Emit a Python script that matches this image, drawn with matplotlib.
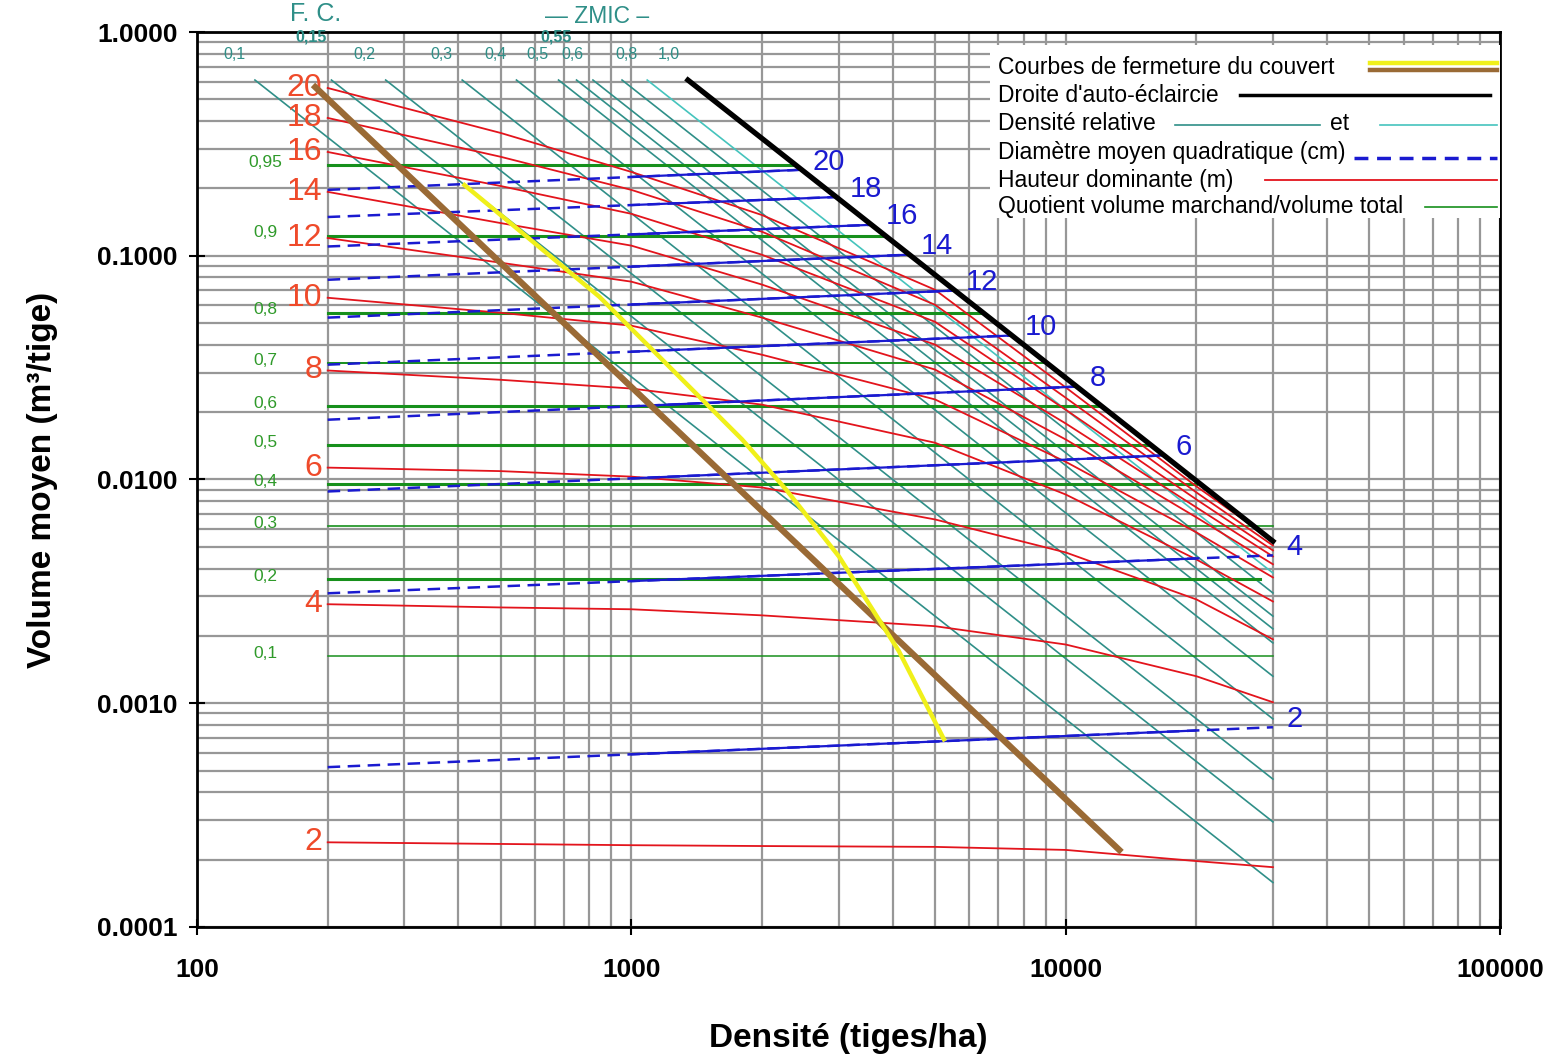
import numpy as np
import matplotlib.pyplot as plt
from matplotlib.ticker import LogLocator, FormatStrFormatter, NullFormatter
from matplotlib.patches import Rectangle

plt.rcParams['font.family'] = ['Liberation Sans', 'DejaVu Sans']

# densities (tiges/ha) at which the height curves were read
n_read = [200, 500, 1000, 2000, 5000, 10000, 20000, 30000]

# hauteur dominante (m) -> volume moyen (m3/tige) at n_read
heights = [20, 18, 16, 14, 12, 10, 8, 6, 4, 2]
h20 = [0.562, 0.354, 0.237, 0.152, 0.0705, 0.0258, 0.00931, 0.00534]
h18 = [0.413, 0.277, 0.197, 0.128, 0.0604, 0.0232, 0.00875, 0.00507]
h16 = [0.291, 0.205, 0.154, 0.101, 0.0507, 0.0205, 0.00814, 0.00482]
h14 = [0.193, 0.140, 0.111, 0.0743, 0.0401, 0.0178, 0.0075, 0.00453]
h12 = [0.120, 0.0931, 0.0766, 0.0529, 0.0310, 0.0151, 0.00677, 0.00418]
h10 = [0.0649, 0.0556, 0.0487, 0.0361, 0.0228, 0.0120, 0.00580, 0.00365]
h8 = [0.0307, 0.0279, 0.0255, 0.0216, 0.0146, 0.00857, 0.00439, 0.00285]
h6 = [0.0113, 0.0109, 0.0103, 0.00921, 0.00663, 0.00472, 0.00291, 0.00193]
h4 = [0.00277, 0.00268, 0.00263, 0.00247, 0.00221, 0.00183, 0.00132, 0.00101]
h2 = [0.000239, 0.000235, 0.000232, 0.000230, 0.000228, 0.000221, 0.000197, 0.000185]
height_curves = [h20, h18, h16, h14, h12, h10, h8, h6, h4, h2]

# diametre moyen quadratique (cm): from N=200 to the self-thinning line
dq_values = [20, 18, 16, 14, 12, 10, 8, 6, 4, 2]
dq_n_start = 200
dq_n_end = [2432, 2958, 3581, 4303, 5470, 7480, 10540, 16630, 30000, 30000]
dq_v_start = [0.197, 0.149, 0.110, 0.0781, 0.0529, 0.0326, 0.0185, 0.00884, 0.00310, 0.000518]
dq_v_end = [0.242, 0.183, 0.1375, 0.101, 0.0698, 0.0440, 0.0260, 0.0128, 0.00458, 0.000781]

# quotient volume marchand / volume total
mv_labels = ['0,95', '0,9', '0,8', '0,7', '0,6', '0,5', '0,4', '0,3', '0,2', '0,1']
mv_v = [0.255, 0.123, 0.0557, 0.033, 0.0212, 0.0142, 0.0095, 0.00617, 0.00358, 0.00162]
mv_n_end = [2388, 3846, 6457, 9078, 12140, 15770, 20000, 30000, 28000, 30000]
mv_lw = [2.2, 2.2, 2.2, 1.4, 2.2, 2.2, 2.2, 1.2, 2.2, 1.1]

# densite relative lines
rd_values = [0.1, 0.15, 0.2, 0.3, 0.4, 0.5, 0.55, 0.6, 0.7, 0.8, 1.0]
rd_n_start = [136, 204, 272, 408, 544, 680, 748, 816, 952, 1088, 1360]
rd_v_start = 0.61
rd_n_end = 30000
rd_v_end = [1.58e-4, 2.95e-4, 4.58e-4, 8.51e-4, 1.32e-3, 1.86e-3, 2.15e-3, 2.45e-3, 3.11e-3, 3.82e-3, 5.37e-3]
rd_top_labels = ['0,1', '0,2', '0,3', '0,4', '0,5', '0,6', '0,8', '1,0']
rd_top_values = [0.1, 0.2, 0.3, 0.4, 0.5, 0.6, 0.8, 1.0]
rd_top2_labels = ['0,15', '0,55']
rd_top2_values = [0.15, 0.55]

# droite d'auto-eclaircie
st_n = [1350, 30000]
st_v = [0.61, 0.0053]

# courbes de fermeture du couvert
fc_brown_n = [185, 13450]
fc_brown_v = [0.58, 0.000216]
fc_yellow_n = [413, 844, 1799, 2271, 3006, 4130, 5245]
fc_yellow_v = [0.207, 0.0656, 0.0151, 0.00902, 0.00453, 0.00171, 0.00069]

teal = '#2f8f88'
teal_light = '#45c4bd'
red = '#e3141c'
red_lbl = '#ef4a2a'
blue = '#1a1ad0'
green = '#17901c'
green_lbl = '#2f9a2a'

fig = plt.figure(figsize=(15.58, 10.60), dpi=100)
ax = fig.add_axes([0.1264, 0.1255, 0.8364, 0.8443])
ax.set_xscale('log')
ax.set_yscale('log')
ax.set_xlim(100, 100000)
ax.set_ylim(0.0001, 1.0)

ax.xaxis.set_minor_locator(LogLocator(base=10, subs=range(2, 10)))
ax.yaxis.set_minor_locator(LogLocator(base=10, subs=range(2, 10)))
ax.xaxis.set_minor_formatter(NullFormatter())
ax.yaxis.set_minor_formatter(NullFormatter())
ax.yaxis.set_major_formatter(FormatStrFormatter('%.4f'))
ax.xaxis.set_major_formatter(FormatStrFormatter('%d'))
ax.grid(True, which='both', color='#979797', linewidth=1.6, zorder=0)
ax.set_axisbelow(True)
ax.tick_params(which='major', direction='inout', length=12, width=1.5, labelsize=19, pad=8)
ax.tick_params(axis='x', which='major', pad=16)
ax.tick_params(which='minor', length=0)
for lbl in ax.get_xticklabels() + ax.get_yticklabels():
    lbl.set_fontweight('bold')
for sp in ax.spines.values():
    sp.set_linewidth(2)

# relative density
for i, r in enumerate(rd_values):
    c = teal_light if r == 0.8 else teal
    ax.plot([rd_n_start[i], rd_n_end], [rd_v_start, rd_v_end[i]], color=c, lw=1.2, zorder=2)
for lab, r in zip(rd_top_labels, rd_top_values):
    ax.annotate(lab, (rd_n_start[rd_values.index(r)], 0.79), xytext=(-15, 0), textcoords='offset points',
                ha='center', va='center', fontsize=11.5, color=teal)
for lab, r in zip(rd_top2_labels, rd_top2_values):
    ax.annotate(lab, (rd_n_start[rd_values.index(r)], 0.95), xytext=(-15, 0), textcoords='offset points',
                ha='center', va='center', fontsize=11.5, color=teal, fontweight='bold')
ax.annotate('F. C.', (188, 1.0), xytext=(0, 13), textcoords='offset points',
            ha='center', va='center', fontsize=18, color=teal, annotation_clip=False)
ax.annotate('— ZMIC –', (836, 1.0), xytext=(0, 11), textcoords='offset points',
            ha='center', va='center', fontsize=16.5, color=teal, annotation_clip=False)

# merchantable volume ratio
for i, lab in enumerate(mv_labels):
    ax.plot([200, mv_n_end[i]], [mv_v[i], mv_v[i]], color=green, lw=mv_lw[i], zorder=2.5)
    ax.annotate(lab, (200, mv_v[i]), xytext=(-45, 2), textcoords='offset points',
                ha='center', va='center', fontsize=12.5, color=green_lbl)

# dominant height
for h, curve in zip(heights, height_curves):
    ax.plot(n_read, curve, color=red, lw=1.3, zorder=3)
    ax.annotate(str(h), (200, curve[0]), xytext=(-4, 0), textcoords='offset points',
                ha='right', va='center', fontsize=23, color=red_lbl)

# quadratic mean diameter
for i, d in enumerate(dq_values):
    xs = [dq_n_start, dq_n_end[i]]
    ys = [dq_v_start[i], dq_v_end[i]]
    ax.plot(xs, ys, color=blue, lw=1.8, ls=(0, (5, 3)), zorder=4)
    solid, = ax.plot(xs, ys, color=blue, lw=1.6, zorder=4)
    n_hi = 20000 if d <= 4 else 1e6
    clip = Rectangle((1000, 1e-6), n_hi - 1000, 10, transform=ax.transData)
    solid.set_clip_path(clip)
    ax.annotate(str(d), (dq_n_end[i], dq_v_end[i]), xytext=(10, 6), textcoords='offset points',
                ha='left', va='center', fontsize=21, color=blue)

# canopy closure curves and self-thinning line
ax.plot(fc_brown_n, fc_brown_v, color='#9a6a35', lw=4.5, zorder=5, solid_capstyle='butt')
ax.plot(fc_yellow_n, fc_yellow_v, color='#f0f01a', lw=3.2, zorder=6)
ax.plot(st_n, st_v, color='black', lw=3.8, zorder=7)

ax.set_xlabel('Densité (tiges/ha)', fontsize=24, fontweight='bold', labelpad=30)
ax.set_ylabel('Volume moyen (m³/tige)', fontsize=24, fontweight='bold', labelpad=28)

# legend block
ax.add_patch(Rectangle((0.6086, 0.792), 0.3914, 0.1935, transform=ax.transAxes,
                       facecolor='white', edgecolor='none', zorder=8))
tx = 0.6147
rows = [0.9609, 0.9296, 0.8983, 0.8659, 0.8346, 0.8045]
texts = ['Courbes de fermeture du couvert', "Droite d'auto-éclaircie", 'Densité relative',
         'Diamètre moyen quadratique (cm)', 'Hauteur dominante (m)',
         'Quotient volume marchand/volume total']
for y, t in zip(rows, texts):
    ax.text(tx, y, t, transform=ax.transAxes, fontsize=16.5, va='center', ha='left', zorder=9)
ax.text(0.8770, rows[2], 'et', transform=ax.transAxes, fontsize=16.5, va='center', ha='center', zorder=9)
kw = dict(transform=ax.transAxes, zorder=9, clip_on=False)
ax.plot([0.9002, 0.9977], [0.9654, 0.9654], color='#f0f01a', lw=3.2, **kw)
ax.plot([0.9002, 0.9977], [0.9575, 0.9575], color='#9a6a35', lw=3.2, **kw)
ax.plot([0.8005, 0.9923], [0.9296, 0.9296], color='black', lw=2.5, **kw)
ax.plot([0.7506, 0.8619], [0.8960, 0.8960], color=teal, lw=1.2, **kw)
ax.plot([0.9079, 0.9977], [0.8960, 0.8960], color=teal_light, lw=1.2, **kw)
ax.plot([0.8880, 0.9977], [0.8592, 0.8592], color=blue, lw=2.5, ls=(0, (4, 2.5)), **kw)
ax.plot([0.8197, 0.9977], [0.8346, 0.8346], color=red, lw=1.3, **kw)
ax.plot([0.9424, 0.9977], [0.8045, 0.8045], color=green, lw=1.2, **kw)

fig.savefig('out.png', dpi=100)
